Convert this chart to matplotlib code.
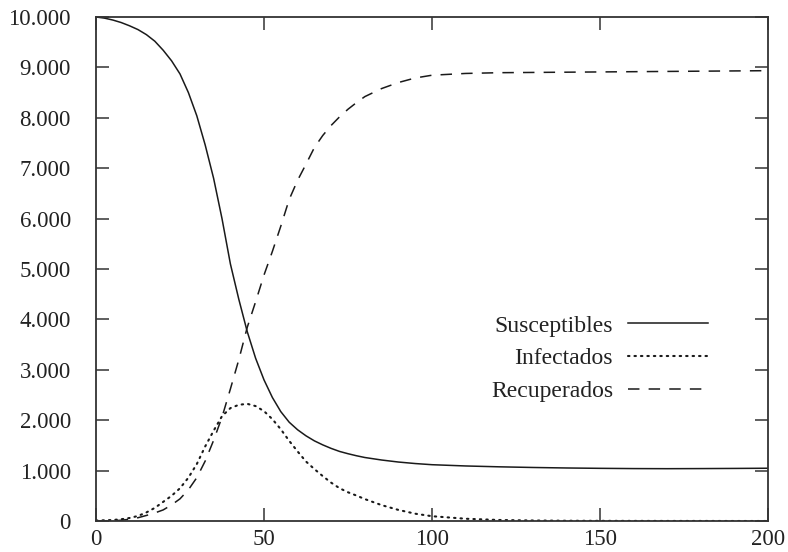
import matplotlib
matplotlib.use("Agg")
import matplotlib.pyplot as plt
from matplotlib.ticker import FuncFormatter

days = [0, 2.5, 5, 7.5, 10, 12.5, 15, 17.5, 20, 22.5, 25, 27.5, 30, 32.5, 35,
        37.5, 40, 42.5, 45, 47.5, 50, 52.5, 55, 57.5, 60, 62.5, 65, 67.5, 70,
        72.5, 75, 77.5, 80, 85, 90, 95, 100, 110, 120, 130, 140, 150, 160,
        170, 180, 190, 200]

susceptibles = [10000, 9978, 9940, 9890, 9825, 9750, 9650, 9520, 9340, 9130,
                8870, 8500, 8040, 7460, 6800, 6000, 5100, 4400, 3760, 3230,
                2800, 2450, 2170, 1960, 1810, 1690, 1590, 1510, 1440, 1380,
                1335, 1295, 1260, 1210, 1170, 1140, 1117, 1092, 1075, 1062,
                1052, 1045, 1040, 1038, 1040, 1043, 1047]

infectados = [10, 14, 20, 35, 60, 100, 170, 260, 380, 500, 650, 860, 1130,
              1480, 1790, 2080, 2240, 2305, 2325, 2280, 2180, 2020, 1820, 1590,
              1380, 1180, 1030, 890, 760, 650, 570, 505, 435, 315, 220, 145,
              95, 45, 20, 10, 5, 3, 2, 1, 1, 0, 0]

recuperados = [0, 2, 5, 15, 35, 65, 110, 160, 220, 320, 440, 620, 860, 1190,
               1600, 2060, 2620, 3200, 3840, 4350, 4880, 5350, 5850, 6380,
               6760, 7080, 7410, 7650, 7850, 8020, 8170, 8300, 8420, 8580,
               8700, 8790, 8845, 8880, 8895, 8900, 8905, 8910, 8915, 8920,
               8925, 8930, 8935]

labels = ["Susceptibles", "Infectados", "Recuperados"]
xticks = [0, 50, 100, 150, 200]
yticks = list(range(0, 10001, 1000))

plt.rcParams['font.family'] = ['Liberation Serif', 'DejaVu Serif']
plt.rcParams['font.size'] = 16.5

fig = plt.figure(figsize=(7.88, 5.52), dpi=100)
ax = fig.add_axes([96/788, 31/552, 672/788, 504/552])

col = '#1a1a1a'
ax.plot(days, susceptibles, color=col, lw=1.1, label=labels[0])
ax.plot(days, infectados, color=col, lw=1.5, linestyle=(0, (0.7, 2.4)),
        dash_capstyle='round', label=labels[1])
ax.plot(days, recuperados, color=col, lw=1.1, linestyle=(0, (7.5, 6)),
        label=labels[2])

ax.set_xlim(0, 200)
ax.set_ylim(0, 10000)
ax.set_xticks(xticks)
ax.set_yticks(yticks)
ax.yaxis.set_major_formatter(FuncFormatter(lambda v, p: f"{int(v):,}".replace(",", ".")))
ax.tick_params(direction='in', length=9.5, width=1.1, color='#333333',
               top=True, right=True, labelcolor='#222222', labelsize=16.5)
ax.tick_params(axis='y', pad=18)
ax.tick_params(axis='x', pad=6)
for s in ax.spines.values():
    s.set_linewidth(1.3)
    s.set_color('#333333')

leg = ax.legend(loc='center right', bbox_to_anchor=(0.911, 0.322),
                markerfirst=False, frameon=False, handlelength=3.39,
                handletextpad=0.64, labelspacing=0.48, borderpad=0,
                borderaxespad=0, fontsize=17)
for t in leg.get_texts():
    t.set_color('#222222')

fig.savefig("out.png", dpi=100)
